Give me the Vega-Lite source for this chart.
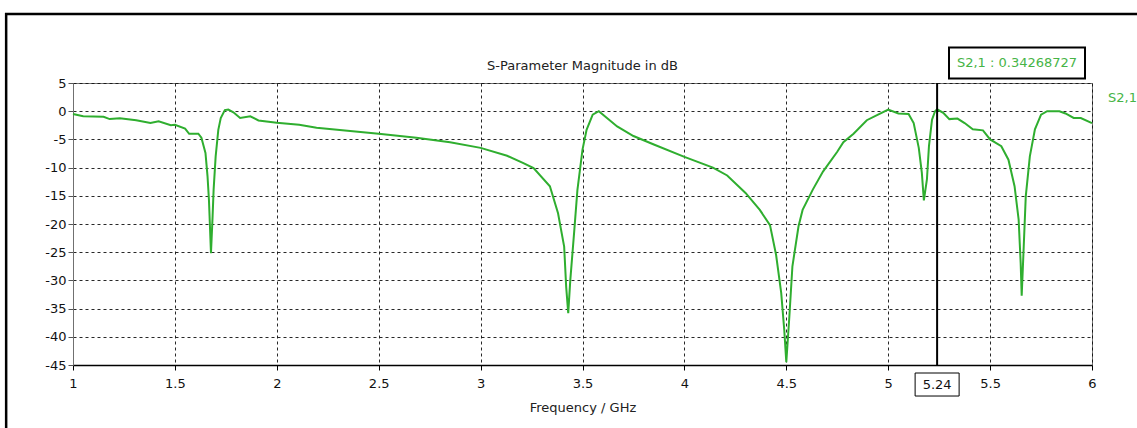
{
  "$schema": "https://vega.github.io/schema/vega-lite/v6.json",
  "width": 1019,
  "height": 282,
  "autosize": {"type": "none"},
  "padding": {"left": 73, "top": 83, "right": 45, "bottom": 63},
  "background": "white",
  "title": {"text": "S-Parameter Magnitude in dB", "font": "DejaVu Sans", "fontSize": 13, "fontWeight": "normal", "color": "#222", "offset": 12, "anchor": "middle", "frame": "group", "dy": 72},
  "config": {
    "view": {"stroke": "#707070", "strokeWidth": 1},
    "axis": {"grid": true, "labelFont": "DejaVu Sans", "labelFontSize": 13, "labelColor": "#111", "labelOverlap": false, "titleFont": "DejaVu Sans", "titleFontSize": 13, "titleFontWeight": "normal", "titleColor": "#222", "gridColor": "#111", "gridDash": [3, 3], "gridWidth": 1, "gridOpacity": 0.9, "tickSize": 5},
    "legend": {"orient": "right", "offset": -5, "padding": 8, "symbolSize": 0, "symbolOpacity": 0, "symbolStrokeWidth": 0, "labelOffset": 0, "labelFont": "DejaVu Sans", "labelFontSize": 13, "labelColor": "#46b446", "title": null}
  },
  "datasets": {
    "s21": [
      {"f": 1.0, "db": -0.5}, {"f": 1.05, "db": -0.9}, {"f": 1.15, "db": -1.0}, {"f": 1.18, "db": -1.4},
      {"f": 1.23, "db": -1.25}, {"f": 1.31, "db": -1.6}, {"f": 1.38, "db": -2.1}, {"f": 1.42, "db": -1.8},
      {"f": 1.48, "db": -2.5}, {"f": 1.5, "db": -2.4}, {"f": 1.55, "db": -3.1}, {"f": 1.57, "db": -4.0},
      {"f": 1.615, "db": -4.0}, {"f": 1.63, "db": -4.7}, {"f": 1.65, "db": -7.4}, {"f": 1.66, "db": -11.5},
      {"f": 1.667, "db": -15.7}, {"f": 1.677, "db": -25.2}, {"f": 1.685, "db": -18.6}, {"f": 1.69, "db": -13.9},
      {"f": 1.7, "db": -8.0}, {"f": 1.713, "db": -3.3}, {"f": 1.725, "db": -1.2}, {"f": 1.745, "db": 0.2},
      {"f": 1.762, "db": 0.3}, {"f": 1.787, "db": -0.2}, {"f": 1.82, "db": -1.2}, {"f": 1.87, "db": -0.9},
      {"f": 1.91, "db": -1.65}, {"f": 2.0, "db": -2.05}, {"f": 2.11, "db": -2.4}, {"f": 2.195, "db": -2.95},
      {"f": 2.36, "db": -3.5}, {"f": 2.5, "db": -4.0}, {"f": 2.685, "db": -4.7}, {"f": 2.85, "db": -5.5},
      {"f": 3.0, "db": -6.5}, {"f": 3.13, "db": -7.9}, {"f": 3.21, "db": -9.2}, {"f": 3.26, "db": -10.1},
      {"f": 3.34, "db": -13.3}, {"f": 3.38, "db": -18.1}, {"f": 3.41, "db": -24.0}, {"f": 3.42, "db": -31.2},
      {"f": 3.43, "db": -35.8}, {"f": 3.44, "db": -30.0}, {"f": 3.46, "db": -21.0}, {"f": 3.475, "db": -14.0},
      {"f": 3.5, "db": -6.8}, {"f": 3.52, "db": -3.3}, {"f": 3.55, "db": -0.6}, {"f": 3.58, "db": 0.0},
      {"f": 3.62, "db": -1.2}, {"f": 3.67, "db": -2.7}, {"f": 3.75, "db": -4.4}, {"f": 3.85, "db": -5.9},
      {"f": 4.0, "db": -8.1}, {"f": 4.14, "db": -10.0}, {"f": 4.21, "db": -11.4}, {"f": 4.3, "db": -14.5},
      {"f": 4.37, "db": -17.5}, {"f": 4.42, "db": -20.2}, {"f": 4.45, "db": -25.5}, {"f": 4.475, "db": -32.2},
      {"f": 4.49, "db": -38.8}, {"f": 4.5, "db": -44.5}, {"f": 4.515, "db": -36.4}, {"f": 4.53, "db": -27.5},
      {"f": 4.56, "db": -20.4}, {"f": 4.58, "db": -17.5}, {"f": 4.63, "db": -13.9}, {"f": 4.68, "db": -10.7},
      {"f": 4.75, "db": -7.2}, {"f": 4.78, "db": -5.5}, {"f": 4.83, "db": -4.0}, {"f": 4.895, "db": -1.6},
      {"f": 4.95, "db": -0.6}, {"f": 5.0, "db": 0.3}, {"f": 5.05, "db": -0.4}, {"f": 5.1, "db": -0.5},
      {"f": 5.125, "db": -2.1}, {"f": 5.15, "db": -6.5}, {"f": 5.165, "db": -10.9}, {"f": 5.175, "db": -15.8},
      {"f": 5.19, "db": -12.1}, {"f": 5.2, "db": -6.2}, {"f": 5.215, "db": -1.5}, {"f": 5.23, "db": 0.0},
      {"f": 5.24, "db": 0.34}, {"f": 5.27, "db": -0.3}, {"f": 5.3, "db": -1.4}, {"f": 5.34, "db": -1.3},
      {"f": 5.375, "db": -2.1}, {"f": 5.415, "db": -3.2}, {"f": 5.465, "db": -3.4}, {"f": 5.5, "db": -5.0},
      {"f": 5.555, "db": -6.2}, {"f": 5.59, "db": -8.6}, {"f": 5.62, "db": -13.3}, {"f": 5.64, "db": -19.2},
      {"f": 5.65, "db": -26.9}, {"f": 5.655, "db": -32.7}, {"f": 5.665, "db": -24.0}, {"f": 5.675, "db": -15.1},
      {"f": 5.695, "db": -8.0}, {"f": 5.72, "db": -3.2}, {"f": 5.75, "db": -0.6}, {"f": 5.78, "db": 0.0},
      {"f": 5.84, "db": 0.0}, {"f": 5.87, "db": -0.4}, {"f": 5.91, "db": -1.2}, {"f": 5.945, "db": -1.2},
      {"f": 6.0, "db": -2.1}
    ],
    "marker": [
      {"f": 5.24, "db": 0.34268727, "label": "S2,1 : 0.34268727", "flabel": "5.24"}
    ]
  },
  "layer": [
    {
      "data": {"name": "s21"},
      "mark": {"type": "line", "strokeWidth": 2, "interpolate": "linear"},
      "encoding": {
        "x": {"field": "f", "type": "quantitative", "scale": {"domain": [1, 6], "nice": false, "zero": false},
          "axis": {"grid": true, "values": [1, 1.5, 2, 2.5, 3, 3.5, 4, 4.5, 5, 5.5, 6], "tickCount": 30, "format": "~g", "title": "Frequency / GHz", "titlePadding": 11, "labelPadding": 7, "domainColor": "#000", "domainWidth": 1.5, "tickColor": "#000", "labelFlush": false}},
        "y": {"field": "db", "type": "quantitative", "scale": {"domain": [-45, 5], "nice": false, "zero": false},
          "axis": {"grid": true, "values": [-45, -40, -35, -30, -25, -20, -15, -10, -5, 0, 5], "tickCount": 30, "labelExpr": "replace(datum.label, '\u2212', '-')", "title": null, "labelPadding": 2, "domainColor": "#707070", "tickColor": "#555", "labelFlush": false}},
        "color": {"datum": "S2,1", "type": "nominal", "scale": {"range": ["#2fae2f"]}}
      }
    },
    {
      "data": {"name": "marker"},
      "mark": {"type": "rect", "fill": null, "filled": false, "stroke": "#000", "strokeWidth": 2.5, "clip": false},
      "encoding": {
        "x": {"datum": 0.672, "type": "quantitative"},
        "x2": {"datum": 6.5},
        "y": {"datum": 17.23, "type": "quantitative"},
        "y2": {"datum": -70}
      }
    },
    {
      "data": {"name": "marker"},
      "mark": {"type": "rule", "color": "#000", "strokeWidth": 2},
      "encoding": {
        "x": {"field": "f", "type": "quantitative"},
        "y": {"datum": 5, "type": "quantitative"},
        "y2": {"datum": -45}
      }
    },
    {
      "data": {"name": "marker"},
      "mark": {"type": "point", "shape": "M-1,-0.523L1,-0.523L1,0.523L-1,0.523Z", "size": 1936, "filled": false, "stroke": "#000", "strokeWidth": 1, "opacity": 1, "clip": false},
      "encoding": {
        "x": {"field": "f", "type": "quantitative"},
        "y": {"datum": -48.46, "type": "quantitative"}
      }
    },
    {
      "data": {"name": "marker"},
      "mark": {"type": "text", "font": "DejaVu Sans", "fontSize": 13, "color": "#111", "align": "center", "baseline": "middle", "clip": false},
      "encoding": {
        "x": {"field": "f", "type": "quantitative"},
        "y": {"datum": -48.46, "type": "quantitative"},
        "text": {"field": "flabel"}
      }
    },
    {
      "data": {"name": "marker"},
      "mark": {"type": "point", "shape": "M-1,-0.228L1,-0.228L1,0.228L-1,0.228Z", "size": 18496, "filled": false, "stroke": "#000", "strokeWidth": 2, "opacity": 1, "clip": false},
      "encoding": {
        "x": {"datum": 5.632, "type": "quantitative"},
        "y": {"datum": 8.55, "type": "quantitative"}
      }
    },
    {
      "data": {"name": "marker"},
      "mark": {"type": "text", "font": "DejaVu Sans", "fontSize": 13, "color": "#46b446", "align": "center", "baseline": "middle", "clip": false},
      "encoding": {
        "x": {"datum": 5.632, "type": "quantitative"},
        "y": {"datum": 8.55, "type": "quantitative"},
        "text": {"field": "label"}
      }
    }
  ]
}
